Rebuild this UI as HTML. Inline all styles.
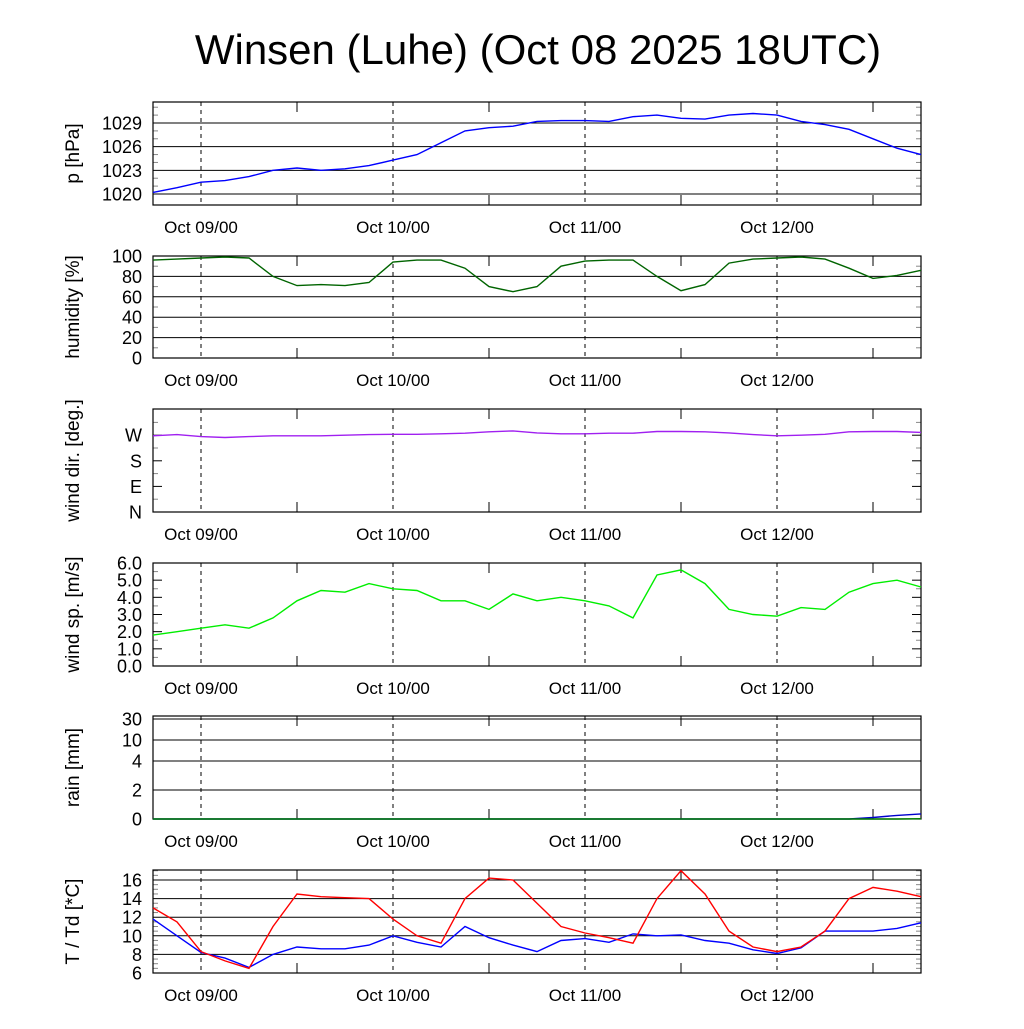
<!DOCTYPE html>
<html><head><meta charset="utf-8"><style>
body{margin:0;background:#fff;width:1024px;height:1024px;overflow:hidden}
svg text{font-family:"Liberation Sans",sans-serif;fill:#000}
</style></head><body>
<svg id="c" width="1024" height="1024" viewBox="0 0 1024 1024">
<text x="538" y="64" font-size="42" text-anchor="middle">Winsen (Luhe) (Oct 08 2025 18UTC)</text>
</svg>
<script>
const hours = Array.from({length:33},(_,i)=>i*3);
const xLabels = ["Oct 09/00","Oct 10/00","Oct 11/00","Oct 12/00"];
const xLabelHours = [6,30,54,78];
const pressure = [1020.2,1020.8,1021.5,1021.7,1022.2,1023.0,1023.3,1023.0,1023.2,1023.6,1024.3,1025.0,1026.5,1028.0,1028.4,1028.6,1029.2,1029.3,1029.3,1029.2,1029.8,1030.0,1029.6,1029.5,1030.0,1030.2,1030.0,1029.2,1028.8,1028.2,1027.0,1025.8,1025.0];
const humidity = [96,97,98,99,98,80,71,72,71,74,94,96,96,88,70,65,70,90,95,96,96,80,66,72,93,97,98,99,97,88,78,81,86];
const windDir = [268,272,265,262,265,268,268,268,270,272,273,273,275,277,282,285,278,275,275,277,277,283,283,282,278,272,268,270,273,282,283,283,280];
const windSpeed = [1.8,2.0,2.2,2.4,2.2,2.8,3.8,4.4,4.3,4.8,4.5,4.4,3.8,3.8,3.3,4.2,3.8,4.0,3.8,3.5,2.8,5.3,5.6,4.8,3.3,3.0,2.9,3.4,3.3,4.3,4.8,5.0,4.6];
const rainBlue = [0,0,0,0,0,0,0,0,0,0,0,0,0,0,0,0,0,0,0,0,0,0,0,0,0,0,0,0,0,0,0.1,0.25,0.35];
const rainGreen = [0,0,0,0,0,0,0,0,0,0,0,0,0,0,0,0,0,0,0,0,0,0,0,0,0,0,0,0,0,0,0,0,0.02];
const temp = [13.0,11.5,8.3,7.3,6.5,11,14.5,14.2,14.1,14.0,11.8,10.0,9.2,14,16.2,16.0,13.5,11.0,10.3,9.8,9.2,14.0,17.0,14.5,10.5,8.8,8.3,8.8,10.5,14.0,15.2,14.8,14.2];
const dew = [11.8,10.0,8.2,7.6,6.6,8.0,8.8,8.6,8.6,9.0,10.0,9.3,8.8,11.0,9.8,9.0,8.3,9.5,9.7,9.3,10.2,10.0,10.1,9.5,9.2,8.5,8.1,8.7,10.5,10.5,10.5,10.8,11.4];

const svg=document.getElementById('c');const NS='http://www.w3.org/2000/svg';
const X0=153,X1=921;
const xs=h=>X0+(X1-X0)*h/96;
function el(tag,attrs,parent){const e=document.createElementNS(NS,tag);for(const k in attrs)e.setAttribute(k,attrs[k]);(parent||svg).appendChild(e);return e;}
function panel(name,top,bot,ylab,ticks,yf,grid,minor){
  const g=el('g',{});
  
  
  ticks.forEach(t=>{const y=yf(t.v);
    if(grid)el('line',{x1:X0,x2:X1,y1:y,y2:y,stroke:'#000','stroke-width':1},g);
    else{el('line',{x1:X0,x2:X0+9,y1:y,y2:y,stroke:'#000'},g);el('line',{x1:X1-9,x2:X1,y1:y,y2:y,stroke:'#000'},g);}
    const tx=el('text',{x:X0-11,y:y+6.5,'font-size':18,'text-anchor':'end'},g);tx.textContent=t.l;
    
    
  });
  (minor||[]).forEach(v=>{const y=yf(v);el('line',{x1:X0,x2:X0+5,y1:y,y2:y,stroke:'#888'},g);el('line',{x1:X1-5,x2:X1,y1:y,y2:y,stroke:'#888'},g);});
  xLabelHours.forEach((h,i)=>{const x=xs(h);
    el('line',{x1:x,x2:x,y1:top,y2:bot,stroke:'#000','stroke-dasharray':'4,4'},g);
    const tx=el('text',{x:x,y:bot+28,'font-size':17,'text-anchor':'middle'},g);tx.textContent=xLabels[i];
    
    
  });
  for(let h=18;h<96;h+=24){const x=xs(h);el('line',{x1:x,x2:x,y1:bot-10,y2:bot,stroke:'#000'},g);el('line',{x1:x,x2:x,y1:top,y2:top+10,stroke:'#000'},g);}
  el('rect',{x:X0,y:top,width:X1-X0,height:bot-top,fill:'none',stroke:'#000','stroke-width':1.2},g);
  const cy=(top+bot)/2;
  const yl=el('text',{x:0,y:0,'font-size':19,'text-anchor':'middle',transform:`translate(79,${cy}) rotate(-90)`},g);yl.textContent=ylab;
  
  
  return g;
}
function line(g,vals,yf,color,name){
  const p=el('polyline',{points:vals.map((v,i)=>xs(hours[i]).toFixed(1)+','+yf(v).toFixed(1)).join(' '),fill:'none',stroke:color,'stroke-width':1.4},g);
  
  
}
const lin=(v0,y0,v1,y1)=>v=>y0+(v-v0)*(y1-y0)/(v1-v0);
let yf=lin(1020,194,1029,123);
let g=panel('pressure',102,205,'p [hPa]',[1020,1023,1026,1029].map(v=>({v,l:v})),yf,true,[1021,1022,1024,1025,1027,1028,1030,1031]);
line(g,pressure,yf,'#0000ff','pressure-line');
yf=lin(0,358,100,256);
g=panel('humidity',256,358,'humidity [%]',[0,20,40,60,80,100].map(v=>({v,l:v})),yf,true,[10,30,50,70,90]);
line(g,humidity,yf,'#006400','humidity-line');
yf=lin(0,512,90,486.4);
g=panel('wind-dir',409,512,'wind dir. [deg.]',[{v:0,l:'N'},{v:90,l:'E'},{v:180,l:'S'},{v:270,l:'W'}],yf,false,[45,135,225,315]);
line(g,windDir,yf,'#a020f0','wind-dir-line');
yf=lin(0,666,6,563);
g=panel('wind-speed',563,666,'wind sp. [m/s]',[0,1,2,3,4,5,6].map(v=>({v,l:v.toFixed(1)})),yf,false,[0.5,1.5,2.5,3.5,4.5,5.5]);
line(g,windSpeed,yf,'#00ee00','wind-speed-line');
const rv=[0,2,4,10,30],ry=[819,790,761,740,719];
yf=v=>{for(let i=0;i<rv.length-1;i++)if(v<=rv[i+1])return ry[i]+(v-rv[i])*(ry[i+1]-ry[i])/(rv[i+1]-rv[i]);return ry[4];};
g=panel('rain',716,819,'rain [mm]',rv.map(v=>({v,l:v})),yf,true,[]);
line(g,rainBlue,yf,'#0000cd','rain-line');
line(g,rainGreen,yf,'#008000','rain-rate-line');
yf=lin(6,973,16,880);
g=panel('temperature',870,973,'T / Td [*C]',[6,8,10,12,14,16].map(v=>({v,l:v})),yf,true,[6.5,7,7.5,8.5,9,9.5,10.5,11,11.5,12.5,13,13.5,14.5,15,15.5,16.5,17]);
line(g,dew,yf,'#0000ff','dewpoint-line');
line(g,temp,yf,'#ff0000','temperature-line');
</script>
</body></html>
